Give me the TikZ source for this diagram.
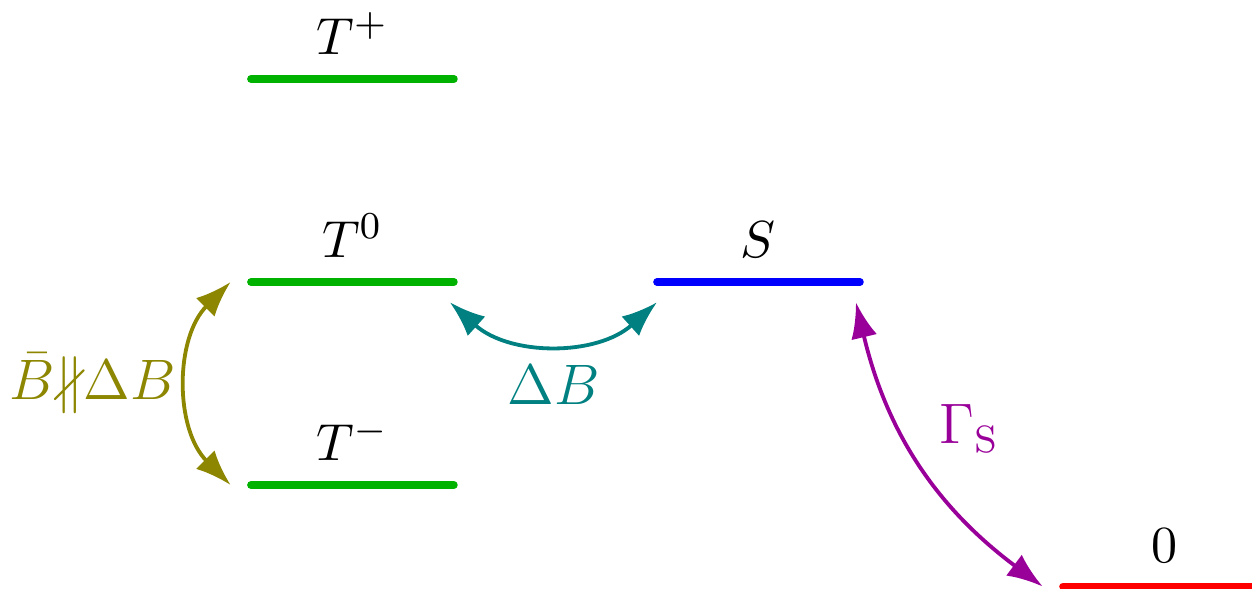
\documentclass[tikz,border=0pt]{standalone}
\usepackage{amsmath,amssymb}
\usetikzlibrary{arrows.meta,positioning}

\definecolor{decay}{RGB}{153,0,153}

\begin{document}
\begin{tikzpicture}[
    x=1.5cm, y=1.5cm,
    level/.style={line width=1.6pt, line cap=round},
    statelabel/.style={black, above=1pt, font=\fontsize{10.95}{13.6}\selectfont},
    rate/.style={font=\large},
    trans/.style={{Latex[length=7.5pt,width=5.5pt]}-{Latex[length=7.5pt,width=5.5pt]}, thick}
]
\useasboundingbox (-1.236,-0.512) rectangle (4.931,2.389);

% level end points
\coordinate (Tp-l) at (0,2);    \coordinate (Tp-r) at (1,2);
\coordinate (T0-l) at (0,1);    \coordinate (T0-r) at (1,1);
\coordinate (Tm-l) at (0,0);    \coordinate (Tm-r) at (1,0);
\coordinate (S-l)  at (2,1);    \coordinate (S-r)  at (3,1);
\coordinate (G-l)  at (4,-0.5); \coordinate (G-r)  at (5,-0.5);

% levels
\draw[level, green!70!black] (Tp-l) -- node[statelabel] (Tp) {$T^+$} (Tp-r);
\draw[level, green!70!black] (T0-l) -- node[statelabel] (T0) {$T^0$} (T0-r);
\draw[level, green!70!black] (Tm-l) -- node[statelabel] (Tm) {$T^-$} (Tm-r);
\draw[level, blue] (S-l) -- node[statelabel] (S) {$S$} (S-r);
\draw[level, red] (G-l) -- node[statelabel] (G) {$0$} (G-r);

% arrow ends
\coordinate (mix-a) at (-0.1,1);   \coordinate (mix-b) at (-0.1,0);
\coordinate (db-a)  at (0.98,0.9); \coordinate (db-b)  at (2,0.9);
\coordinate (dec-a) at (2.98,0.9); \coordinate (dec-b) at (3.9,-0.5);

% transitions
\draw[trans, olive] (mix-a) to[bend right=45]
    node[rate, left=-1pt] (mix) {$\bar{B}{\nparallel}\Delta B$} (mix-b);
\draw[trans, teal] (db-a) to[bend right=42]
    node[rate, below=1pt] (db) {$\Delta B$} (db-b);
\draw[trans, decay] (dec-a) to[bend right=20]
    node[rate, above right=-1.5pt and 0.2pt] (dec) {$\Gamma_{\mathrm{S}}$} (dec-b);
\end{tikzpicture}
\end{document}
